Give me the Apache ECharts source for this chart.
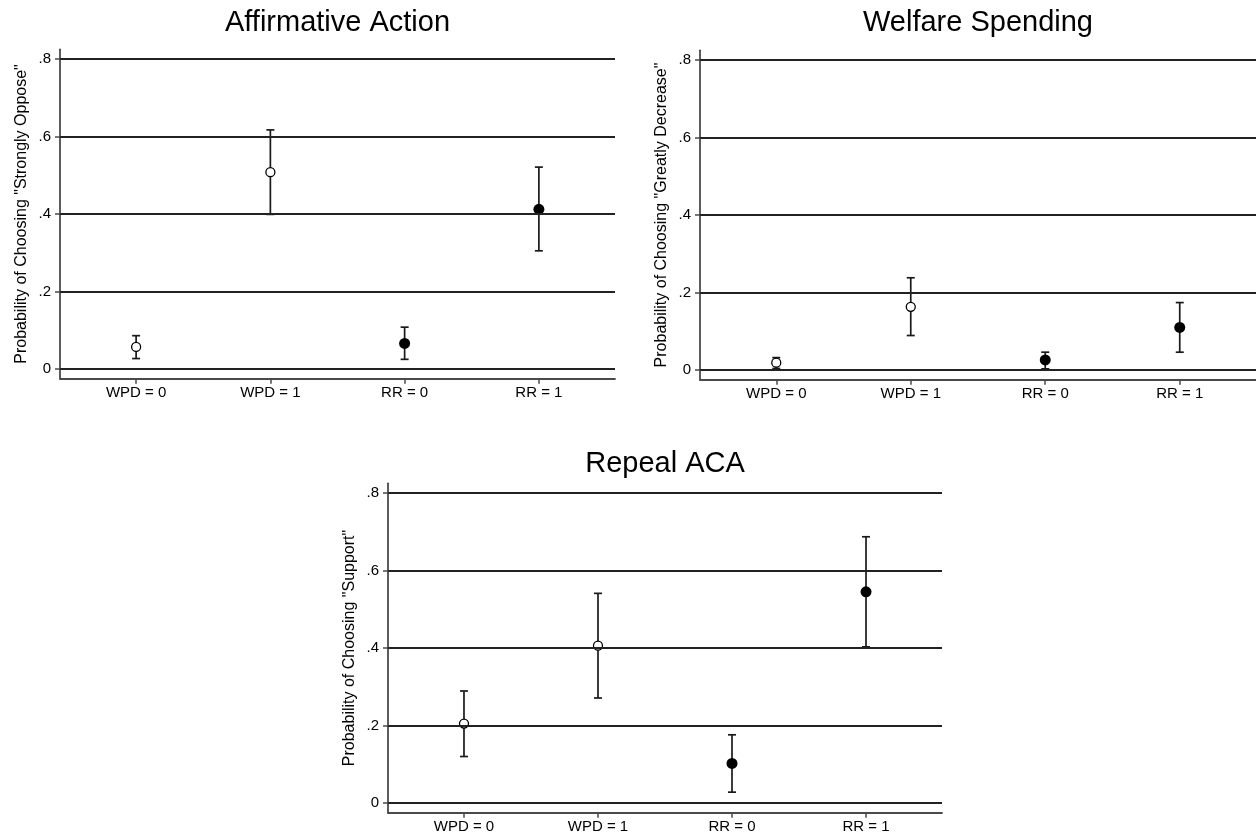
<!DOCTYPE html>
<html><head><meta charset="utf-8">
<script src="https://cdn.jsdelivr.net/npm/echarts@6/dist/echarts.min.js"></script>
<style>html,body{margin:0;padding:0;background:#fff}#c{width:1256px;height:836px}</style>
</head><body><div id="c"></div>
<script>
const categories = ['WPD = 0', 'WPD = 1', 'RR = 0', 'RR = 1'];
const hollowMarker = [true, true, false, false];
const yTicks = [0, 0.2, 0.4, 0.6, 0.8];
const yTickLabels = ['0', '.2', '.4', '.6', '.8'];

const titles = ['Affirmative Action', 'Welfare Spending', 'Repeal ACA'];
const yNames = ['Probability of Choosing "Strongly Oppose"', 'Probability of Choosing "Greatly Decrease"', 'Probability of Choosing "Support"'];

const aaEst = [0.057, 0.508, 0.066, 0.412];
const aaLo  = [0.027, 0.399, 0.025, 0.305];
const aaHi  = [0.086, 0.617, 0.108, 0.521];

const wsEst = [0.019, 0.163, 0.026, 0.110];
const wsLo  = [0.004, 0.089, 0.003, 0.046];
const wsHi  = [0.032, 0.238, 0.046, 0.174];

const raEst = [0.205, 0.406, 0.102, 0.545];
const raLo  = [0.120, 0.271, 0.028, 0.403];
const raHi  = [0.289, 0.541, 0.176, 0.687];

const panels = [
  {est: aaEst, lo: aaLo, hi: aaHi, grid: {left: 60, top: 49.3, width: 555, height: 329.4}},
  {est: wsEst, lo: wsLo, hi: wsHi, grid: {left: 700, top: 50.3, width: 556, height: 329.4}},
  {est: raEst, lo: raLo, hi: raHi, grid: {left: 388, top: 483.3, width: 554, height: 329.4}}
];

const FONT = 'Liberation Sans, Arial, sans-serif';
const AXIS_COLOR = '#4a4a4a';
const GRID_COLOR = '#222';
const INK = '#000';
const xPos = categories.map((c, i) => i + 1);

const grids = [], xAxes = [], yAxes = [], series = [], graphics = [];
panels.forEach((p, k) => {
  grids.push(p.grid);
  xAxes.push({
    type: 'value', gridIndex: k, min: 0.433, max: 4.567,
    splitLine: {show: false},
    axisLine: {show: true, onZero: false, lineStyle: {color: AXIS_COLOR, width: 1.8}},
    axisTick: {show: true, customValues: xPos, length: 5, lineStyle: {color: AXIS_COLOR, width: 1.5}},
    axisLabel: {customValues: xPos, margin: 7, fontFamily: FONT, fontSize: 15, color: '#000',
      formatter: v => categories[Math.round(v) - 1]}
  });
  yAxes.push({
    type: 'value', gridIndex: k, min: -0.025, max: 0.825,
    name: yNames[k], nameLocation: 'middle', nameRotate: 90, nameGap: 30,
    nameTextStyle: {fontFamily: FONT, fontSize: 16, color: '#000'},
    splitLine: {show: false},
    axisLine: {show: true, onZero: false, lineStyle: {color: AXIS_COLOR, width: 1.8}},
    axisTick: {show: true, customValues: yTicks, length: 5, lineStyle: {color: AXIS_COLOR, width: 1.5}},
    axisLabel: {customValues: yTicks, margin: 9, fontFamily: FONT, fontSize: 15, color: '#000',
      formatter: v => { const i = yTicks.findIndex(t => Math.abs(t - v) < 1e-6); return i >= 0 ? yTickLabels[i] : ''; }}
  });
  series.push({
    type: 'custom', xAxisIndex: k, yAxisIndex: k, silent: true, z: 3,
    data: xPos.map((x, i) => [x, p.lo[i], p.hi[i]]),
    renderItem: (params, api) => {
      const x = api.value(0);
      const a = api.coord([x, api.value(1)]);
      const b = api.coord([x, api.value(2)]);
      const st = {stroke: '#1a1a1a', lineWidth: 1.7};
      const hw = 4;
      return {type: 'group', children: [
        {type: 'line', shape: {x1: a[0], y1: a[1], x2: b[0], y2: b[1]}, style: st},
        {type: 'line', shape: {x1: a[0] - hw, y1: a[1], x2: a[0] + hw, y2: a[1]}, style: st},
        {type: 'line', shape: {x1: b[0] - hw, y1: b[1], x2: b[0] + hw, y2: b[1]}, style: st}
      ]};
    }
  });
  series.push({
    type: 'scatter', xAxisIndex: k, yAxisIndex: k, silent: true, z: 4,
    data: xPos.map((x, i) => ({
      value: [x, p.est[i]],
      symbolSize: hollowMarker[i] ? 9 : 11,
      itemStyle: hollowMarker[i]
        ? {color: '#fff', borderColor: INK, borderWidth: 1.3, opacity: 1}
        : {color: INK, opacity: 1}
    })),
    markLine: {
      silent: true, symbol: ['none', 'none'], label: {show: false}, animation: false,
      lineStyle: {color: GRID_COLOR, width: 1.8, type: 'solid'},
      data: yTicks.map(v => ({yAxis: v}))
    }
  });
  graphics.push({
    type: 'text', x: p.grid.left + p.grid.width / 2, y: k < 2 ? 23 : 464,
    style: {text: titles[k], font: '29px ' + FONT, fill: '#000', textAlign: 'center', textVerticalAlign: 'middle'}
  });
});

const chart = echarts.init(document.getElementById('c'), null, {renderer: 'canvas'});
chart.setOption({
  backgroundColor: '#fff', animation: false,
  grid: grids, xAxis: xAxes, yAxis: yAxes, series: series, graphic: graphics
});
</script>
</body></html>
